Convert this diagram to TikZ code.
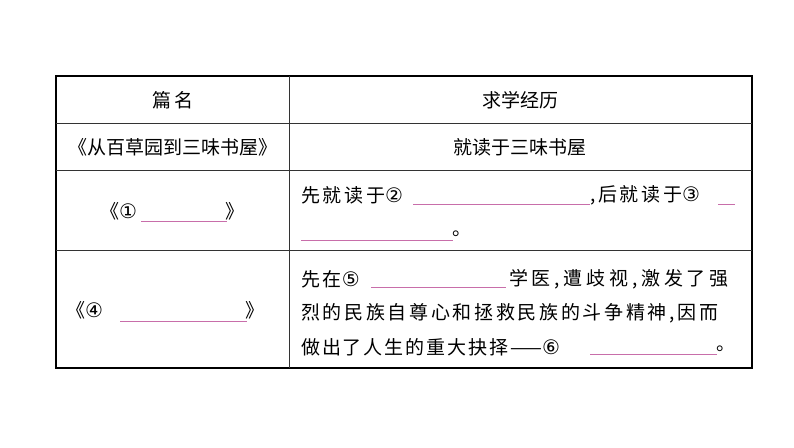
\documentclass[tikz,border=0pt]{standalone}
\usepackage{fontspec}
\setmainfont{Noto Sans CJK SC}
\newfontfamily\circfont{DejaVu Sans}
\newcommand{\cnum}[1]{{\circfont\fontsize{20}{20}\selectfont #1}}
\definecolor{blank}{RGB}{200,110,170}
\begin{document}
\begin{tikzpicture}[x=1pt,y=-1pt,
  txt/.style={inner sep=0pt,anchor=west,font=\fontsize{19}{22}\selectfont\addfontfeatures{LetterSpace=14}},
  ctxt/.style={inner sep=0pt,font=\fontsize{19}{22}\selectfont},
  blankline/.style={blank,line width=0.9pt},
  rule/.style={line width=0.8pt,black!80}]
\useasboundingbox (0,0) rectangle (794,447);
\draw[line width=1.6pt] (56,76) rectangle (752,368);
\draw[rule] (56,123) -- (752,123);
\draw[rule] (56,170) -- (752,170);
\draw[rule] (56,250) -- (752,250);
\draw[rule] (289,76) -- (289,368);
\node[ctxt] (h1) at (173,100) {篇\,名};
\node[ctxt] (h2) at (520,100) {求学经历};
\node[ctxt] (r2a) at (173,147) {《从百草园到三味书屋》};
\node[ctxt] (r2b) at (520,147) {就读于三味书屋};
% row 3 left
\node[txt] (l3a) at (100,211) {《\cnum{①}};
\draw[blankline] (141,221) -- (227,221);
\node[txt] (l3b) at (225,211) {》};
% row 3 right
\node[txt] (r3a) at (301,195) {先就读于\cnum{②}};
\draw[blankline] (413,204) -- (590,204);
\node[txt] (r3b) at (590,195) {,后就读于\cnum{③}};
\draw[blankline] (718,204) -- (735,204);
\draw[blankline] (301,240) -- (453,240);
\node[txt] (r3c) at (452,234) {。};
% row 4 left
\node[txt] (l4a) at (66,310) {《\cnum{④}};
\draw[blankline] (120,321) -- (247,321);
\node[txt] (l4b) at (245,310) {》};
% row 4 right
\node[txt] (r4a) at (301,279) {先在\cnum{⑤}};
\draw[blankline] (371,287) -- (506,287);
\node[txt,font=\fontsize{19}{22}\selectfont\addfontfeatures{LetterSpace=20}] (r4b) at (509,279) {学医,遭歧视,激发了强};
\node[txt] (r4c) at (301,313) {烈的民族自尊心和拯救民族的斗争精神,因而};
\node[txt,font=\fontsize{19}{22}\selectfont\addfontfeatures{LetterSpace=10}] (r4d) at (301,347) {做出了人生的重大抉择——\cnum{⑥}};
\draw[blankline] (590,354) -- (717,354);
\node[txt] (r4e) at (716,349) {。};
\end{tikzpicture}
\end{document}
